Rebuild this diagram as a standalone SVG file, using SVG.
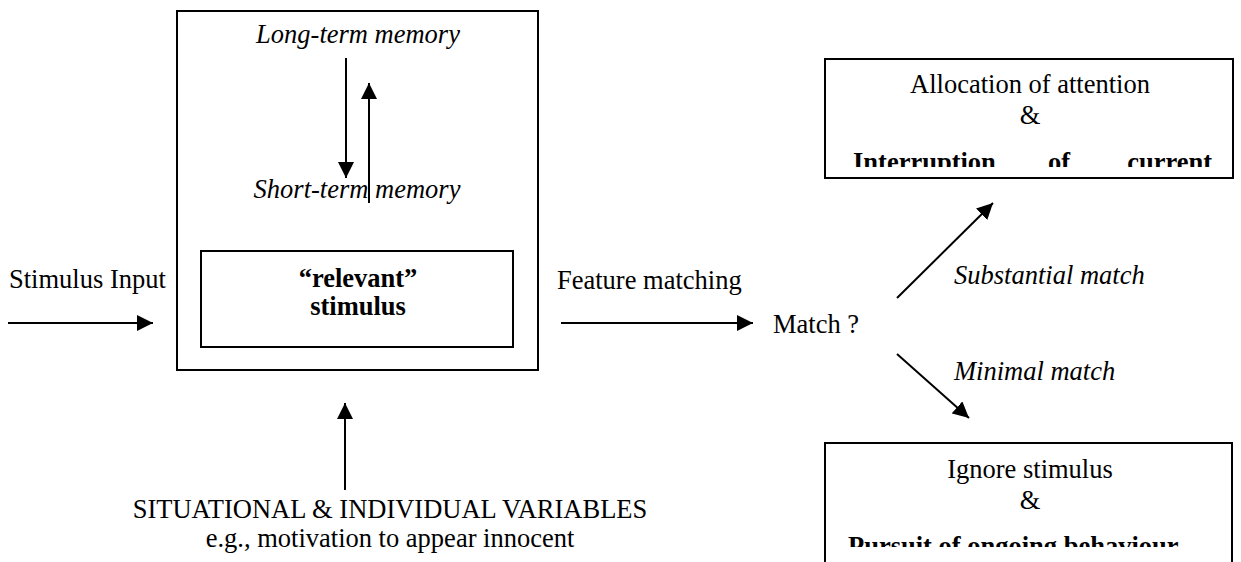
<svg xmlns="http://www.w3.org/2000/svg" width="1241" height="562" viewBox="0 0 1241 562">
<style>
text{font-family:"Liberation Serif","Times New Roman",serif;font-size:26.5px;fill:#000}
.it{font-style:italic}
.b{font-weight:bold}
.m{text-anchor:middle}
.box{fill:#fff;stroke:#000;stroke-width:2}
.ln{stroke:#000;stroke-width:2;fill:none}
</style>
<defs>
<marker id="ah2" viewBox="0 0 10 10" refX="10" refY="5" markerWidth="16" markerHeight="16" markerUnits="userSpaceOnUse" orient="auto">
<path d="M0,0 L10,5 L0,10 Z" fill="#000"/>
</marker>
<clipPath id="c1"><rect x="826" y="60" width="406" height="107"/></clipPath>
<clipPath id="c2"><rect x="826" y="444" width="406" height="103"/></clipPath>
</defs>

<g id="memory-box">
<rect class="box" x="177" y="11" width="361" height="359"/>
<text class="it m" x="358" y="43">Long-term memory</text>
<text class="it m" x="357" y="198">Short-term memory</text>
</g>

<g id="relevant-stimulus">
<rect class="box" x="201" y="251" width="312" height="96"/>
<text class="b m" x="358" y="287">“relevant”</text>
<text class="b m" x="358" y="315">stimulus</text>
</g>

<g id="stimulus-input">
<text x="9" y="288">Stimulus Input</text>
</g>

<g id="feature-matching">
<text x="557" y="289">Feature matching</text>
</g>

<g id="match">
<text x="773" y="333">Match ?</text>
</g>

<g id="allocation">
<rect class="box" x="825" y="59" width="408" height="119"/>
<text class="m" x="1030" y="93">Allocation of attention</text>
<text class="m" x="1030" y="124">&amp;</text>
<g clip-path="url(#c1)">
<text class="b" x="853" y="171">Interruption</text>
<text class="b" x="1048" y="171">of</text>
<text class="b" x="1212" y="171" text-anchor="end">current</text>
</g>
</g>

<g id="ignore">
<rect class="box" x="825" y="443" width="407" height="140"/>
<text class="m" x="1030" y="478">Ignore stimulus</text>
<text class="m" x="1030" y="509">&amp;</text>
<g clip-path="url(#c2)">
<text class="b" x="848" y="555">Pursuit of ongoing behaviour</text>
</g>
</g>

<g id="variables">
<text class="m" x="390" y="518">SITUATIONAL &amp; INDIVIDUAL VARIABLES</text>
<text class="m" x="390" y="547">e.g., motivation to appear innocent</text>
</g>

<g id="labels">
<text class="it" x="954" y="284">Substantial match</text>
<text class="it" x="954" y="380">Minimal match</text>
</g>

<g id="connectors">
<line class="ln" x1="346" y1="58" x2="346" y2="178" marker-end="url(#ah2)"/>
<line class="ln" x1="369" y1="203" x2="369" y2="83" marker-end="url(#ah2)"/>
<line class="ln" x1="8" y1="323" x2="153" y2="323" marker-end="url(#ah2)"/>
<line class="ln" x1="561" y1="323" x2="753" y2="323" marker-end="url(#ah2)"/>
<line class="ln" x1="897" y1="298" x2="993" y2="203" marker-end="url(#ah2)"/>
<line class="ln" x1="897" y1="354" x2="969" y2="418" marker-end="url(#ah2)"/>
<line class="ln" x1="345" y1="490" x2="345" y2="403" marker-end="url(#ah2)"/>
</g>
</svg>
